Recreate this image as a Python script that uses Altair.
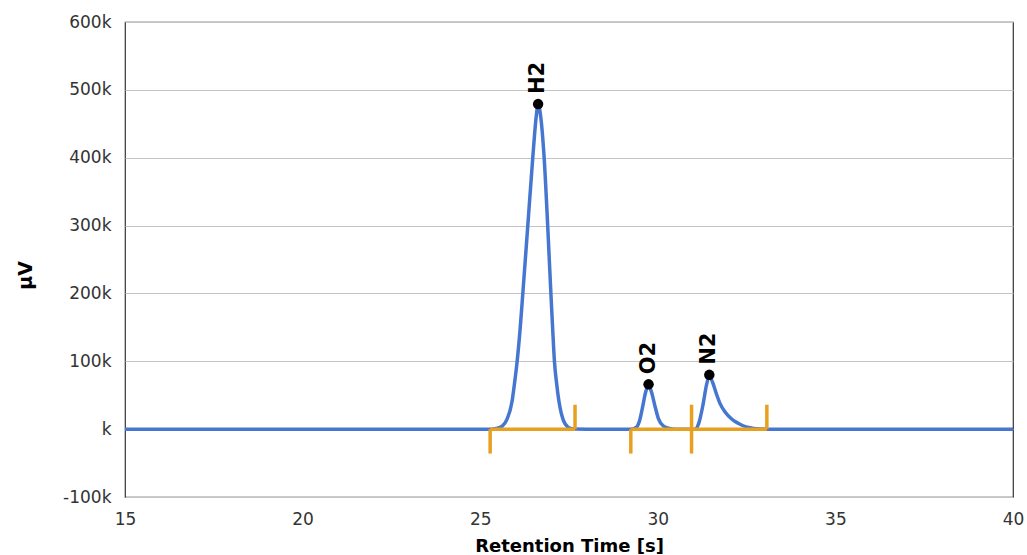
import altair as alt
import pandas as pd

# Chromatogram trace (retention time [s], signal [µV])
trace_t = [15.0, 25.30, 25.45, 25.62, 25.75, 25.90, 25.96, 26.03, 26.12, 26.20, 26.34, 26.48,
           26.58, 26.63, 26.70, 26.80, 26.90, 26.99, 27.04, 27.09, 27.15, 27.22, 27.28, 27.35,
           27.45, 27.55, 27.68, 28.00,
           29.25, 29.40, 29.50, 29.57, 29.66, 29.74, 29.82, 29.93, 30.02, 30.15, 30.30, 30.50,
           31.05, 31.15, 31.28, 31.37, 31.45, 31.55, 31.65, 31.75, 31.90, 32.08, 32.25,
           32.40, 32.60, 32.80, 33.10, 40.0]
trace_uv = [0, 0, 900, 4500, 14000, 42000, 65000, 95000, 145000, 200000, 300000, 400000,
            462000, 479000, 462000, 400000, 300000, 200000, 148000, 100000, 68000, 40000,
            24000, 12000, 4000, 1100, 200, 0,
            0, 3000, 15000, 32000, 55000, 65000, 55000, 32000, 15000, 5000, 1500, 0,
            0, 8000, 38000, 65000, 78000, 68000, 52000, 38000, 25000, 15000, 9000,
            5000, 2000, 500, 0, 0]

# Peak labels
peak_names = ["H2", "O2", "N2"]
peak_t = [26.63, 29.74, 31.45]
peak_uv = [479000, 66000, 80000]

# Integration baseline markers
seg_start = [25.28, 29.24, 30.95]
seg_end = [27.67, 30.95, 33.07]
marker_len = 36000

trace = pd.DataFrame({"t": trace_t, "uv": trace_uv})
peaks = pd.DataFrame({"name": peak_names, "t": peak_t, "uv": peak_uv})
segs = pd.DataFrame({"t1": seg_start, "t2": seg_end, "y": [0] * len(seg_start)})
ticks = pd.DataFrame({
    "t": seg_start + seg_end,
    "y1": [0] * (len(seg_start) + len(seg_end)),
    "y2": [-marker_len] * len(seg_start) + [marker_len] * len(seg_end),
})

FONT = "DejaVu Sans"
BLUE = "#4677D0"
ORANGE = "#E8A020"

x_scale = alt.Scale(domain=[15, 40], nice=False, zero=False)
y_scale = alt.Scale(domain=[-100000, 600000], nice=False)

x_axis = alt.Axis(values=[15, 20, 25, 30, 35, 40], title="Retention Time [s]", grid=False,
                  ticks=False, domain=False, labelFontSize=17, labelFont=FONT,
                  labelColor="#333333", labelPadding=14, labelFlush=False,
                  titleFont=FONT, titleFontSize=18,
                  titleFontWeight="bold", titleColor="#000000", titleY=49,
                  titleBaseline="middle")
y_axis = alt.Axis(values=[-100000, 0, 100000, 200000, 300000, 400000, 500000, 600000],
                  title="µV", grid=True, gridColor="#c4c4c4", gridWidth=1,
                  ticks=False, domain=False, labelFontSize=17, labelFont=FONT,
                  labelColor="#333333", labelPadding=14,
                  labelExpr="datum.value == 0 ? 'k' : (datum.value / 1000) + 'k'",
                  titleFont=FONT, titleFontSize=19, titleFontWeight="bold",
                  titleColor="#000000", titleAngle=270, titleX=-100, titleY=253,
                  titleBaseline="middle", titleAlign="center")

line = alt.Chart(trace).mark_line(color=BLUE, strokeWidth=3.5, interpolate="monotone").encode(
    x=alt.X("t:Q", scale=x_scale, axis=x_axis),
    y=alt.Y("uv:Q", scale=y_scale, axis=y_axis),
)

seg_rules = alt.Chart(segs).mark_rule(color=ORANGE, strokeWidth=3.5).encode(
    x="t1:Q", x2="t2:Q", y="y:Q"
)
tick_rules = alt.Chart(ticks).mark_rule(color=ORANGE, strokeWidth=3.5).encode(
    x="t:Q", y="y1:Q", y2="y2:Q"
)

dots = alt.Chart(peaks).mark_point(filled=True, color="#000000", size=110, opacity=1).encode(
    x="t:Q", y="uv:Q"
)
labels = alt.Chart(peaks).mark_text(angle=270, align="left", baseline="middle", dx=10,
                                    font=FONT, fontSize=21, fontWeight="bold",
                                    color="#000000").encode(
    x="t:Q", y="uv:Q", text="name:N"
)

chart = alt.layer(line, seg_rules, tick_rules, dots, labels).properties(
    width=888, height=475,
    padding={"left": 125, "top": 22, "right": 14, "bottom": 58},
    autosize=alt.AutoSizeParams(type="none"),
).configure_view(stroke="#333333", strokeWidth=1.2)

chart.save("out.html", embed_options={"renderer": "svg", "actions": False})
